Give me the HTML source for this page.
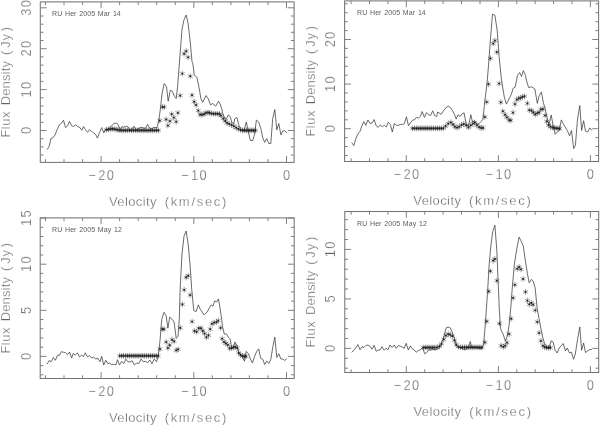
<!DOCTYPE html>
<html lang="en">
<head>
<meta charset="utf-8">
<title>RU Her spectra</title>
<style>
html,body{margin:0;padding:0;background:#fff;}
body{width:600px;height:425px;overflow:hidden;}
svg{display:block;opacity:0.999;will-change:transform;}
text{font-family:"Liberation Sans",sans-serif;fill:#606060;stroke:#ffffff;stroke-width:0.3px;}
.ttl{font-size:7.0px;letter-spacing:0.08px;word-spacing:0.7px;fill:#5c5c5c;stroke:none;}
.tk{font-size:14px;letter-spacing:1.4px;}
.ax{font-size:13px;letter-spacing:1.15px;}
.ay{letter-spacing:0.9px;}
</style>
</head>
<body>
<svg width="600" height="425" viewBox="0 0 600 425">
<rect x="0" y="0" width="600" height="425" fill="#ffffff"/>
<g class="panel-TL">
<rect x="40.3" y="1.9" width="253.8" height="160.5" fill="none" stroke="#747474" stroke-width="1.05"/>
<path d="M45.5 162.4v-3.2M45.5 1.9v3.2M64.0 162.4v-3.2M64.0 1.9v3.2M82.6 162.4v-3.2M82.6 1.9v3.2M101.1 162.4v-6.3M101.1 1.9v6.3M119.6 162.4v-3.2M119.6 1.9v3.2M138.2 162.4v-3.2M138.2 1.9v3.2M156.7 162.4v-3.2M156.7 1.9v3.2M175.3 162.4v-3.2M175.3 1.9v3.2M193.8 162.4v-6.3M193.8 1.9v6.3M212.3 162.4v-3.2M212.3 1.9v3.2M230.9 162.4v-3.2M230.9 1.9v3.2M249.4 162.4v-3.2M249.4 1.9v3.2M268.0 162.4v-3.2M268.0 1.9v3.2M286.5 162.4v-6.3M286.5 1.9v6.3M40.3 155.0h3.2M294.1 155.0h-3.2M40.3 146.9h3.2M294.1 146.9h-3.2M40.3 138.7h3.2M294.1 138.7h-3.2M40.3 130.5h6.3M294.1 130.5h-6.3M40.3 122.3h3.2M294.1 122.3h-3.2M40.3 114.1h3.2M294.1 114.1h-3.2M40.3 106.0h3.2M294.1 106.0h-3.2M40.3 97.8h3.2M294.1 97.8h-3.2M40.3 89.6h6.3M294.1 89.6h-6.3M40.3 81.4h3.2M294.1 81.4h-3.2M40.3 73.2h3.2M294.1 73.2h-3.2M40.3 65.1h3.2M294.1 65.1h-3.2M40.3 56.9h3.2M294.1 56.9h-3.2M40.3 48.7h6.3M294.1 48.7h-6.3M40.3 40.5h3.2M294.1 40.5h-3.2M40.3 32.3h3.2M294.1 32.3h-3.2M40.3 24.2h3.2M294.1 24.2h-3.2M40.3 16.0h3.2M294.1 16.0h-3.2M40.3 7.8h6.3M294.1 7.8h-6.3" fill="none" stroke="#7a7a7a" stroke-width="0.95"/>
<polyline points="47.1,149.6 49.2,146.4 50.9,138.5 52.7,138.0 55.0,135.0 57.1,129.7 59.4,124.7 61.5,123.0 63.5,120.3 65.6,127.6 67.7,125.8 69.5,121.4 71.7,125.8 73.5,126.5 75.3,124.9 77.6,126.5 79.7,127.4 81.8,130.2 83.6,126.5 85.5,129.7 87.6,132.3 89.4,129.7 91.5,131.4 93.8,132.9 95.6,134.4 97.5,138.1 99.6,132.3 101.7,127.6 103.8,132.9 105.6,129.2 107.9,129.7 109.7,127.6 112.0,125.3 114.1,123.5 116.2,123.0 118.0,124.4 120.2,129.7 122.0,126.5 123.8,127.4 125.9,126.2 127.8,126.5 129.9,130.2 131.7,129.7 133.8,126.2 136.1,129.7 137.9,128.8 139.6,127.9 141.1,127.4 143.2,127.9 145.3,128.4 147.6,124.4 149.8,128.4 152.0,128.8 153.8,127.4 156.1,127.6 156.8,128.2 158.5,122.0 160.3,109.7 162.0,93.8 164.2,83.6 166.5,86.7 168.2,101.2 170.3,90.3 172.3,91.2 174.4,96.4 176.2,98.7 177.6,86.7 178.8,70.9 180.2,52.9 182.0,29.1 184.1,19.4 186.2,15.0 188.0,22.9 190.3,42.3 192.0,61.7 192.9,63.8 194.3,75.3 196.8,77.0 199.1,87.6 200.8,98.2 202.6,102.3 206.1,95.6 208.4,99.1 210.5,104.9 212.7,103.5 215.8,106.1 218.5,101.2 220.2,104.0 222.0,109.7 222.5,112.6 224.5,117.9 226.3,119.4 228.3,114.9 230.1,116.4 231.9,122.4 233.8,123.9 234.6,118.9 236.9,117.4 238.7,124.7 240.6,129.5 242.6,130.7 244.4,129.5 246.3,122.0 248.2,131.4 250.4,140.5 252.7,140.5 254.5,134.5 256.4,120.1 258.7,122.1 261.0,129.2 262.8,137.9 264.7,142.4 266.7,138.5 268.8,143.5 270.8,143.5 272.7,118.6 274.8,109.6 276.8,129.9 278.8,123.5 280.9,134.9 282.8,131.0 284.8,130.7 287.0,133.0" fill="none" stroke="#3a3a3a" stroke-width="0.75" stroke-linejoin="round"/>
<path d="M106.4 126.9v5.8M103.9 128.4l5.0 2.9M103.9 131.2l5.0 -2.9M108.3 126.5v5.8M105.8 128.0l5.0 2.9M105.8 130.8l5.0 -2.9M110.3 126.2v5.8M107.7 127.6l5.0 2.9M107.7 130.5l5.0 -2.9M112.2 126.0v5.8M109.7 127.5l5.0 2.9M109.7 130.3l5.0 -2.9M114.1 126.1v5.8M111.6 127.5l5.0 2.9M111.6 130.4l5.0 -2.9M116.1 126.5v5.8M113.5 128.0l5.0 2.9M113.5 130.8l5.0 -2.9M118.0 127.0v5.8M115.5 128.5l5.0 2.9M115.5 131.3l5.0 -2.9M119.9 127.4v5.8M117.4 128.9l5.0 2.9M117.4 131.8l5.0 -2.9M121.8 127.4v5.8M119.3 128.9l5.0 2.9M119.3 131.8l5.0 -2.9M123.8 127.4v5.8M121.3 128.9l5.0 2.9M121.3 131.8l5.0 -2.9M125.7 127.4v5.8M123.2 128.9l5.0 2.9M123.2 131.8l5.0 -2.9M127.6 127.4v5.8M125.1 128.9l5.0 2.9M125.1 131.8l5.0 -2.9M129.6 127.4v5.8M127.0 128.9l5.0 2.9M127.0 131.8l5.0 -2.9M131.5 127.4v5.8M129.0 128.9l5.0 2.9M129.0 131.8l5.0 -2.9M133.4 127.4v5.8M130.9 128.9l5.0 2.9M130.9 131.8l5.0 -2.9M135.3 127.4v5.8M132.8 128.9l5.0 2.9M132.8 131.8l5.0 -2.9M137.3 127.4v5.8M134.8 128.9l5.0 2.9M134.8 131.8l5.0 -2.9M139.2 127.4v5.8M136.7 128.9l5.0 2.9M136.7 131.8l5.0 -2.9M141.1 127.4v5.8M138.6 128.9l5.0 2.9M138.6 131.8l5.0 -2.9M143.1 127.4v5.8M140.6 128.9l5.0 2.9M140.6 131.8l5.0 -2.9M145.0 127.4v5.8M142.5 128.9l5.0 2.9M142.5 131.8l5.0 -2.9M146.9 127.4v5.8M144.4 128.9l5.0 2.9M144.4 131.8l5.0 -2.9M148.9 127.4v5.8M146.3 128.9l5.0 2.9M146.3 131.8l5.0 -2.9M150.8 127.4v5.8M148.3 128.9l5.0 2.9M148.3 131.8l5.0 -2.9M152.7 127.4v5.8M150.2 128.9l5.0 2.9M150.2 131.8l5.0 -2.9M154.7 127.4v5.8M152.1 128.9l5.0 2.9M152.1 131.8l5.0 -2.9M156.6 127.4v5.8M154.1 128.9l5.0 2.9M154.1 131.8l5.0 -2.9M158.5 127.4v5.8M156.0 128.9l5.0 2.9M156.0 131.8l5.0 -2.9M159.8 117.7v5.8M157.3 119.1l5.0 2.9M157.3 122.0l5.0 -2.9M162.4 104.1v5.8M159.9 105.5l5.0 2.9M159.9 108.5l5.0 -2.9M164.2 104.1v5.8M161.7 105.5l5.0 2.9M161.7 108.5l5.0 -2.9M166.1 116.5v5.8M163.6 118.0l5.0 2.9M163.6 120.9l5.0 -2.9M167.9 122.6v5.8M165.4 124.0l5.0 2.9M165.4 127.0l5.0 -2.9M170.0 118.2v5.8M167.5 119.6l5.0 2.9M167.5 122.5l5.0 -2.9M171.7 111.2v5.8M169.2 112.6l5.0 2.9M169.2 115.5l5.0 -2.9M173.9 114.7v5.8M171.4 116.1l5.0 2.9M171.4 119.0l5.0 -2.9M176.2 118.8v5.8M173.7 120.2l5.0 2.9M173.7 123.2l5.0 -2.9M177.9 109.9v5.8M175.4 111.3l5.0 2.9M175.4 114.2l5.0 -2.9M180.2 92.7v5.8M177.7 94.1l5.0 2.9M177.7 97.0l5.0 -2.9M182.3 70.6v5.8M179.8 72.0l5.0 2.9M179.8 75.0l5.0 -2.9M184.1 50.9v5.8M181.6 52.3l5.0 2.9M181.6 55.2l5.0 -2.9M186.2 48.2v5.8M183.7 49.6l5.0 2.9M183.7 52.6l5.0 -2.9M188.1 54.4v5.8M185.6 55.8l5.0 2.9M185.6 58.8l5.0 -2.9M190.3 73.3v5.8M187.8 74.8l5.0 2.9M187.8 77.7l5.0 -2.9M192.0 92.3v5.8M189.5 93.8l5.0 2.9M189.5 96.7l5.0 -2.9M194.1 98.8v5.8M191.6 100.2l5.0 2.9M191.6 103.2l5.0 -2.9M196.1 102.0v5.8M193.6 103.5l5.0 2.9M193.6 106.4l5.0 -2.9M198.2 107.7v5.8M195.7 109.1l5.0 2.9M195.7 112.0l5.0 -2.9M200.0 111.7v5.8M197.5 113.1l5.0 2.9M197.5 116.0l5.0 -2.9M202.0 111.8v5.8M199.5 113.2l5.0 2.9M199.5 116.2l5.0 -2.9M204.0 111.3v5.8M201.5 112.8l5.0 2.9M201.5 115.7l5.0 -2.9M205.8 110.0v5.8M203.3 111.5l5.0 2.9M203.3 114.4l5.0 -2.9M208.0 109.5v5.8M205.5 111.0l5.0 2.9M205.5 113.9l5.0 -2.9M209.7 110.0v5.8M207.2 111.5l5.0 2.9M207.2 114.4l5.0 -2.9M211.7 110.6v5.8M209.2 112.0l5.0 2.9M209.2 115.0l5.0 -2.9M213.7 110.9v5.8M211.2 112.3l5.0 2.9M211.2 115.2l5.0 -2.9M215.7 110.9v5.8M213.2 112.3l5.0 2.9M213.2 115.2l5.0 -2.9M217.7 110.9v5.8M215.2 112.3l5.0 2.9M215.2 115.2l5.0 -2.9M219.5 111.1v5.8M217.0 112.5l5.0 2.9M217.0 115.5l5.0 -2.9M221.0 112.7v5.8M218.5 114.1l5.0 2.9M218.5 117.0l5.0 -2.9M223.3 115.7v5.8M220.8 117.1l5.0 2.9M220.8 120.0l5.0 -2.9M225.2 118.0v5.8M222.7 119.5l5.0 2.9M222.7 122.4l5.0 -2.9M227.1 120.0v5.8M224.6 121.5l5.0 2.9M224.6 124.4l5.0 -2.9M229.3 121.0v5.8M226.8 122.5l5.0 2.9M226.8 125.4l5.0 -2.9M231.6 122.1v5.8M229.1 123.5l5.0 2.9M229.1 126.5l5.0 -2.9M233.8 123.3v5.8M231.3 124.8l5.0 2.9M231.3 127.7l5.0 -2.9M236.1 124.8v5.8M233.6 126.2l5.0 2.9M233.6 129.2l5.0 -2.9M238.4 126.0v5.8M235.9 127.5l5.0 2.9M235.9 130.3l5.0 -2.9M240.6 127.0v5.8M238.1 128.5l5.0 2.9M238.1 131.3l5.0 -2.9M242.6 127.5v5.8M240.1 129.0l5.0 2.9M240.1 131.8l5.0 -2.9M244.4 127.5v5.8M241.9 129.0l5.0 2.9M241.9 131.8l5.0 -2.9M246.3 127.5v5.8M243.8 129.0l5.0 2.9M243.8 131.8l5.0 -2.9M248.2 127.5v5.8M245.6 129.0l5.0 2.9M245.6 131.8l5.0 -2.9M250.0 127.5v5.8M247.5 129.0l5.0 2.9M247.5 131.8l5.0 -2.9M251.8 127.5v5.8M249.3 129.0l5.0 2.9M249.3 131.8l5.0 -2.9M253.7 127.5v5.8M251.2 129.0l5.0 2.9M251.2 131.8l5.0 -2.9M255.5 127.5v5.8M253.0 129.0l5.0 2.9M253.0 131.8l5.0 -2.9" fill="none" stroke="#222222" stroke-width="0.43"/>
<path d="M106.4 129.8h0M108.3 129.4h0M110.3 129.1h0M112.2 128.9h0M114.1 129.0h0M116.1 129.4h0M118.0 129.9h0M119.9 130.3h0M121.8 130.3h0M123.8 130.3h0M125.7 130.3h0M127.6 130.3h0M129.6 130.3h0M131.5 130.3h0M133.4 130.3h0M135.3 130.3h0M137.3 130.3h0M139.2 130.3h0M141.1 130.3h0M143.1 130.3h0M145.0 130.3h0M146.9 130.3h0M148.9 130.3h0M150.8 130.3h0M152.7 130.3h0M154.7 130.3h0M156.6 130.3h0M158.5 130.3h0M159.8 120.6h0M162.4 107.0h0M164.2 107.0h0M166.1 119.4h0M167.9 125.5h0M170.0 121.1h0M171.7 114.1h0M173.9 117.6h0M176.2 121.7h0M177.9 112.8h0M180.2 95.6h0M182.3 73.5h0M184.1 53.8h0M186.2 51.1h0M188.1 57.3h0M190.3 76.2h0M192.0 95.2h0M194.1 101.7h0M196.1 104.9h0M198.2 110.6h0M200.0 114.6h0M202.0 114.7h0M204.0 114.2h0M205.8 112.9h0M208.0 112.4h0M209.7 112.9h0M211.7 113.5h0M213.7 113.8h0M215.7 113.8h0M217.7 113.8h0M219.5 114.0h0M221.0 115.6h0M223.3 118.6h0M225.2 120.9h0M227.1 122.9h0M229.3 123.9h0M231.6 125.0h0M233.8 126.2h0M236.1 127.7h0M238.4 128.9h0M240.6 129.9h0M242.6 130.4h0M244.4 130.4h0M246.3 130.4h0M248.2 130.4h0M250.0 130.4h0M251.8 130.4h0M253.7 130.4h0M255.5 130.4h0" fill="none" stroke="#1c1c1c" stroke-width="1.75" stroke-linecap="round"/>
<text x="52" y="15.5" class="ttl">RU Her 2005 Mar 14</text>
<text transform="translate(101.7 179.6) scale(0.92 1)" class="tk" text-anchor="middle"><tspan>−</tspan><tspan dx="1.4">20</tspan></text>
<text transform="translate(194.4 179.6) scale(0.92 1)" class="tk" text-anchor="middle"><tspan>−</tspan><tspan dx="1.4">10</tspan></text>
<text transform="translate(287.1 179.6) scale(0.92 1)" class="tk" text-anchor="middle">0</text>
<text x="168.5" y="205.8" class="ax" text-anchor="middle"><tspan letter-spacing="0.4">Velocity</tspan><tspan letter-spacing="4.1"> </tspan><tspan letter-spacing="1.7">(km/sec)</tspan></text>
<text transform="translate(30.8 129.9) rotate(-90) scale(0.92 1)" class="tk" text-anchor="middle">0</text>
<text transform="translate(30.8 89.0) rotate(-90) scale(0.92 1)" class="tk" text-anchor="middle">10</text>
<text transform="translate(30.8 48.1) rotate(-90) scale(0.92 1)" class="tk" text-anchor="middle">20</text>
<text transform="translate(30.8 7.2) rotate(-90) scale(0.92 1)" class="tk" text-anchor="middle">30</text>
<text transform="translate(10.3 81.8) rotate(-90)" class="ax ay" text-anchor="middle"><tspan letter-spacing="0.5">Flux</tspan><tspan letter-spacing="2.1"> </tspan><tspan letter-spacing="0.15">Density</tspan><tspan letter-spacing="2.4"> </tspan><tspan letter-spacing="2.7">(</tspan><tspan letter-spacing="0.9">J</tspan><tspan letter-spacing="2.7">y</tspan><tspan>)</tspan></text>
</g>
<g class="panel-TR">
<rect x="344.6" y="0.9" width="254.0" height="160.6" fill="none" stroke="#747474" stroke-width="1.05"/>
<path d="M351.1 161.5v-3.2M351.1 0.9v3.2M369.5 161.5v-3.2M369.5 0.9v3.2M387.9 161.5v-3.2M387.9 0.9v3.2M406.3 161.5v-6.3M406.3 0.9v6.3M424.7 161.5v-3.2M424.7 0.9v3.2M443.1 161.5v-3.2M443.1 0.9v3.2M461.5 161.5v-3.2M461.5 0.9v3.2M480.0 161.5v-3.2M480.0 0.9v3.2M498.4 161.5v-6.3M498.4 0.9v6.3M516.8 161.5v-3.2M516.8 0.9v3.2M535.2 161.5v-3.2M535.2 0.9v3.2M553.6 161.5v-3.2M553.6 0.9v3.2M572.0 161.5v-3.2M572.0 0.9v3.2M590.4 161.5v-6.3M590.4 0.9v6.3M344.6 155.5h3.2M598.6 155.5h-3.2M344.6 146.5h3.2M598.6 146.5h-3.2M344.6 137.6h3.2M598.6 137.6h-3.2M344.6 128.7h6.3M598.6 128.7h-6.3M344.6 119.8h3.2M598.6 119.8h-3.2M344.6 110.9h3.2M598.6 110.9h-3.2M344.6 101.9h3.2M598.6 101.9h-3.2M344.6 93.0h3.2M598.6 93.0h-3.2M344.6 84.1h6.3M598.6 84.1h-6.3M344.6 75.2h3.2M598.6 75.2h-3.2M344.6 66.3h3.2M598.6 66.3h-3.2M344.6 57.3h3.2M598.6 57.3h-3.2M344.6 48.4h3.2M598.6 48.4h-3.2M344.6 39.5h6.3M598.6 39.5h-6.3M344.6 30.6h3.2M598.6 30.6h-3.2M344.6 21.7h3.2M598.6 21.7h-3.2M344.6 12.7h3.2M598.6 12.7h-3.2M344.6 3.8h3.2M598.6 3.8h-3.2" fill="none" stroke="#7a7a7a" stroke-width="0.95"/>
<polyline points="351.7,142.6 353.8,145.6 355.9,138.5 357.9,134.1 360.0,131.4 362.1,125.3 363.9,121.7 365.8,125.3 367.9,120.0 370.0,123.5 372.0,123.0 374.1,119.6 376.2,125.8 378.2,127.4 380.3,124.9 382.4,126.7 384.3,125.3 386.4,127.0 388.2,122.3 390.3,124.4 392.3,132.0 394.4,123.5 396.5,125.3 398.4,125.3 400.6,124.4 402.7,124.4 404.4,123.5 406.4,116.8 408.5,125.8 410.6,122.6 412.5,120.3 414.7,119.6 416.4,117.3 418.5,118.2 420.5,116.1 422.2,111.5 424.4,117.3 426.5,112.6 428.4,114.7 430.5,115.6 432.7,110.8 434.6,115.6 436.7,116.5 437.6,112.0 441.2,114.3 443.8,110.3 446.5,107.1 448.2,106.2 450.5,107.6 452.6,110.8 454.4,114.3 456.2,119.1 457.9,114.7 460.0,116.5 462.0,113.8 464.1,112.9 466.2,124.4 468.5,126.2 470.8,114.7 472.4,121.7 474.7,120.9 476.8,124.4 479.1,123.5 481.2,121.4 483.0,119.1 484.7,102.3 486.9,84.7 488.5,65.9 490.4,40.0 492.5,14.1 494.9,15.3 497.2,30.6 499.1,56.5 501.5,80.0 503.8,94.1 504.3,97.1 506.4,104.1 509.1,98.8 511.4,94.1 513.2,88.2 515.1,87.1 517.5,75.3 519.6,72.5 521.5,76.5 523.4,70.6 525.5,75.3 526.3,80.0 528.6,87.5 531.6,86.8 534.9,89.0 537.3,103.4 539.1,95.8 541.4,92.1 543.3,102.6 545.1,108.6 547.1,117.7 548.9,125.2 551.2,115.0 553.1,125.2 555.2,134.3 557.2,132.0 559.2,130.5 561.3,119.9 563.2,123.7 565.5,127.5 567.3,130.5 569.6,135.8 571.5,130.5 573.7,148.6 575.4,145.4 577.5,119.2 579.8,105.6 581.6,130.5 583.6,120.7 585.5,131.2 587.6,132.0 589.9,127.9 591.9,130.5" fill="none" stroke="#3a3a3a" stroke-width="0.75" stroke-linejoin="round"/>
<path d="M412.4 125.4v5.8M409.9 126.9l5.0 2.9M409.9 129.8l5.0 -2.9M414.3 125.4v5.8M411.8 126.9l5.0 2.9M411.8 129.8l5.0 -2.9M416.3 125.4v5.8M413.7 126.9l5.0 2.9M413.7 129.8l5.0 -2.9M418.2 125.4v5.8M415.7 126.9l5.0 2.9M415.7 129.8l5.0 -2.9M420.1 125.4v5.8M417.6 126.9l5.0 2.9M417.6 129.8l5.0 -2.9M422.0 125.4v5.8M419.5 126.9l5.0 2.9M419.5 129.8l5.0 -2.9M424.0 125.4v5.8M421.5 126.9l5.0 2.9M421.5 129.8l5.0 -2.9M425.9 125.4v5.8M423.4 126.9l5.0 2.9M423.4 129.8l5.0 -2.9M427.8 125.4v5.8M425.3 126.9l5.0 2.9M425.3 129.8l5.0 -2.9M429.8 125.4v5.8M427.3 126.9l5.0 2.9M427.3 129.8l5.0 -2.9M431.7 125.4v5.8M429.2 126.9l5.0 2.9M429.2 129.8l5.0 -2.9M433.6 125.4v5.8M431.1 126.9l5.0 2.9M431.1 129.8l5.0 -2.9M435.6 125.4v5.8M433.0 126.9l5.0 2.9M433.0 129.8l5.0 -2.9M437.5 125.4v5.8M435.0 126.9l5.0 2.9M435.0 129.8l5.0 -2.9M439.4 125.4v5.8M436.9 126.9l5.0 2.9M436.9 129.8l5.0 -2.9M441.3 125.4v5.8M438.8 126.9l5.0 2.9M438.8 129.8l5.0 -2.9M443.3 125.4v5.8M440.8 126.9l5.0 2.9M440.8 129.8l5.0 -2.9M445.6 123.3v5.8M443.1 124.8l5.0 2.9M443.1 127.7l5.0 -2.9M448.2 120.6v5.8M445.7 122.0l5.0 2.9M445.7 125.0l5.0 -2.9M450.9 119.4v5.8M448.4 120.8l5.0 2.9M448.4 123.8l5.0 -2.9M453.0 121.5v5.8M450.5 123.0l5.0 2.9M450.5 125.9l5.0 -2.9M454.9 123.8v5.8M452.4 125.2l5.0 2.9M452.4 128.2l5.0 -2.9M457.0 124.7v5.8M454.5 126.1l5.0 2.9M454.5 129.0l5.0 -2.9M459.2 123.8v5.8M456.7 125.2l5.0 2.9M456.7 128.2l5.0 -2.9M461.5 122.0v5.8M459.0 123.5l5.0 2.9M459.0 126.4l5.0 -2.9M463.7 121.0v5.8M461.2 122.5l5.0 2.9M461.2 125.4l5.0 -2.9M466.2 122.4v5.8M463.7 123.8l5.0 2.9M463.7 126.8l5.0 -2.9M468.5 124.5v5.8M466.0 126.0l5.0 2.9M466.0 128.8l5.0 -2.9M470.8 122.4v5.8M468.3 123.8l5.0 2.9M468.3 126.8l5.0 -2.9M472.9 120.6v5.8M470.4 122.0l5.0 2.9M470.4 125.0l5.0 -2.9M474.7 119.7v5.8M472.2 121.1l5.0 2.9M472.2 124.0l5.0 -2.9M476.8 122.4v5.8M474.3 123.8l5.0 2.9M474.3 126.8l5.0 -2.9M479.1 124.1v5.8M476.6 125.5l5.0 2.9M476.6 128.4l5.0 -2.9M481.2 125.0v5.8M478.7 126.5l5.0 2.9M478.7 129.3l5.0 -2.9M483.0 125.0v5.8M480.5 126.5l5.0 2.9M480.5 129.3l5.0 -2.9M484.9 114.1v5.8M482.4 115.5l5.0 2.9M482.4 118.5l5.0 -2.9M486.7 99.1v5.8M484.2 100.5l5.0 2.9M484.2 103.5l5.0 -2.9M488.5 81.3v5.8M486.0 82.8l5.0 2.9M486.0 85.7l5.0 -2.9M490.4 55.5v5.8M487.9 56.9l5.0 2.9M487.9 59.9l5.0 -2.9M493.2 40.6v5.8M490.7 42.0l5.0 2.9M490.7 45.0l5.0 -2.9M494.9 37.6v5.8M492.4 39.0l5.0 2.9M492.4 42.0l5.0 -2.9M496.8 49.3v5.8M494.3 50.8l5.0 2.9M494.3 53.7l5.0 -2.9M499.1 80.6v5.8M496.6 82.0l5.0 2.9M496.6 85.0l5.0 -2.9M500.8 99.4v5.8M498.3 100.8l5.0 2.9M498.3 103.8l5.0 -2.9M502.9 108.3v5.8M500.4 109.8l5.0 2.9M500.4 112.7l5.0 -2.9M505.0 111.8v5.8M502.5 113.2l5.0 2.9M502.5 116.2l5.0 -2.9M507.0 114.4v5.8M504.5 115.8l5.0 2.9M504.5 118.8l5.0 -2.9M509.1 117.1v5.8M506.6 118.5l5.0 2.9M506.6 121.5l5.0 -2.9M510.8 117.4v5.8M508.3 118.8l5.0 2.9M508.3 121.8l5.0 -2.9M513.0 109.7v5.8M510.5 111.1l5.0 2.9M510.5 114.0l5.0 -2.9M514.9 101.2v5.8M512.4 102.6l5.0 2.9M512.4 105.5l5.0 -2.9M516.8 96.7v5.8M514.3 98.1l5.0 2.9M514.3 101.0l5.0 -2.9M518.8 95.5v5.8M516.3 97.0l5.0 2.9M516.3 99.9l5.0 -2.9M520.6 94.9v5.8M518.1 96.3l5.0 2.9M518.1 99.2l5.0 -2.9M522.5 94.0v5.8M520.0 95.5l5.0 2.9M520.0 98.4l5.0 -2.9M524.5 93.4v5.8M522.0 94.8l5.0 2.9M522.0 97.8l5.0 -2.9M527.4 100.5v5.8M524.9 102.0l5.0 2.9M524.9 104.9l5.0 -2.9M529.3 107.2v5.8M526.8 108.6l5.0 2.9M526.8 111.5l5.0 -2.9M531.6 107.7v5.8M529.1 109.1l5.0 2.9M529.1 112.0l5.0 -2.9M533.4 109.5v5.8M530.9 111.0l5.0 2.9M530.9 113.9l5.0 -2.9M535.3 111.5v5.8M532.8 113.0l5.0 2.9M532.8 115.9l5.0 -2.9M537.3 110.3v5.8M534.8 111.8l5.0 2.9M534.8 114.7l5.0 -2.9M539.1 109.5v5.8M536.6 111.0l5.0 2.9M536.6 113.9l5.0 -2.9M540.9 106.5v5.8M538.4 108.0l5.0 2.9M538.4 110.9l5.0 -2.9M542.9 106.0v5.8M540.4 107.5l5.0 2.9M540.4 110.4l5.0 -2.9M545.1 112.5v5.8M542.6 114.0l5.0 2.9M542.6 116.9l5.0 -2.9M546.7 118.5v5.8M544.2 120.0l5.0 2.9M544.2 122.9l5.0 -2.9M548.5 122.3v5.8M546.0 123.8l5.0 2.9M546.0 126.7l5.0 -2.9M550.4 123.8v5.8M547.9 125.2l5.0 2.9M547.9 128.2l5.0 -2.9M552.4 124.6v5.8M549.9 126.0l5.0 2.9M549.9 128.9l5.0 -2.9M554.2 125.0v5.8M551.7 126.5l5.0 2.9M551.7 129.3l5.0 -2.9M556.1 125.3v5.8M553.6 126.7l5.0 2.9M553.6 129.6l5.0 -2.9M558.0 125.6v5.8M555.5 127.0l5.0 2.9M555.5 129.9l5.0 -2.9M559.8 125.6v5.8M557.3 127.0l5.0 2.9M557.3 129.9l5.0 -2.9" fill="none" stroke="#222222" stroke-width="0.43"/>
<path d="M412.4 128.3h0M414.3 128.3h0M416.3 128.3h0M418.2 128.3h0M420.1 128.3h0M422.0 128.3h0M424.0 128.3h0M425.9 128.3h0M427.8 128.3h0M429.8 128.3h0M431.7 128.3h0M433.6 128.3h0M435.6 128.3h0M437.5 128.3h0M439.4 128.3h0M441.3 128.3h0M443.3 128.3h0M445.6 126.2h0M448.2 123.5h0M450.9 122.3h0M453.0 124.4h0M454.9 126.7h0M457.0 127.6h0M459.2 126.7h0M461.5 124.9h0M463.7 123.9h0M466.2 125.3h0M468.5 127.4h0M470.8 125.3h0M472.9 123.5h0M474.7 122.6h0M476.8 125.3h0M479.1 127.0h0M481.2 127.9h0M483.0 127.9h0M484.9 117.0h0M486.7 102.0h0M488.5 84.2h0M490.4 58.4h0M493.2 43.5h0M494.9 40.5h0M496.8 52.2h0M499.1 83.5h0M500.8 102.3h0M502.9 111.2h0M505.0 114.7h0M507.0 117.3h0M509.1 120.0h0M510.8 120.3h0M513.0 112.6h0M514.9 104.1h0M516.8 99.6h0M518.8 98.4h0M520.6 97.8h0M522.5 96.9h0M524.5 96.3h0M527.4 103.4h0M529.3 110.1h0M531.6 110.6h0M533.4 112.4h0M535.3 114.4h0M537.3 113.2h0M539.1 112.4h0M540.9 109.4h0M542.9 108.9h0M545.1 115.4h0M546.7 121.4h0M548.5 125.2h0M550.4 126.7h0M552.4 127.5h0M554.2 127.9h0M556.1 128.2h0M558.0 128.5h0M559.8 128.5h0" fill="none" stroke="#1c1c1c" stroke-width="1.75" stroke-linecap="round"/>
<text x="357" y="14.7" class="ttl">RU Her 2005 Mar 14</text>
<text transform="translate(406.9 178.7) scale(0.92 1)" class="tk" text-anchor="middle"><tspan>−</tspan><tspan dx="1.4">20</tspan></text>
<text transform="translate(499.0 178.7) scale(0.92 1)" class="tk" text-anchor="middle"><tspan>−</tspan><tspan dx="1.4">10</tspan></text>
<text transform="translate(591.0 178.7) scale(0.92 1)" class="tk" text-anchor="middle">0</text>
<text x="472.9" y="204.9" class="ax" text-anchor="middle"><tspan letter-spacing="0.4">Velocity</tspan><tspan letter-spacing="4.1"> </tspan><tspan letter-spacing="1.7">(km/sec)</tspan></text>
<text transform="translate(335.1 128.1) rotate(-90) scale(0.92 1)" class="tk" text-anchor="middle">0</text>
<text transform="translate(335.1 83.5) rotate(-90) scale(0.92 1)" class="tk" text-anchor="middle">10</text>
<text transform="translate(335.1 38.9) rotate(-90) scale(0.92 1)" class="tk" text-anchor="middle">20</text>
<text transform="translate(314.6 80.8) rotate(-90)" class="ax ay" text-anchor="middle"><tspan letter-spacing="0.5">Flux</tspan><tspan letter-spacing="2.1"> </tspan><tspan letter-spacing="0.15">Density</tspan><tspan letter-spacing="2.4"> </tspan><tspan letter-spacing="2.7">(</tspan><tspan letter-spacing="0.9">J</tspan><tspan letter-spacing="2.7">y</tspan><tspan>)</tspan></text>
</g>
<g class="panel-BL">
<rect x="40.2" y="217.9" width="254.0" height="160.6" fill="none" stroke="#747474" stroke-width="1.05"/>
<path d="M45.5 378.5v-3.2M45.5 217.9v3.2M64.0 378.5v-3.2M64.0 217.9v3.2M82.6 378.5v-3.2M82.6 217.9v3.2M101.1 378.5v-6.3M101.1 217.9v6.3M119.6 378.5v-3.2M119.6 217.9v3.2M138.2 378.5v-3.2M138.2 217.9v3.2M156.7 378.5v-3.2M156.7 217.9v3.2M175.3 378.5v-3.2M175.3 217.9v3.2M193.8 378.5v-6.3M193.8 217.9v6.3M212.3 378.5v-3.2M212.3 217.9v3.2M230.9 378.5v-3.2M230.9 217.9v3.2M249.4 378.5v-3.2M249.4 217.9v3.2M268.0 378.5v-3.2M268.0 217.9v3.2M286.5 378.5v-6.3M286.5 217.9v6.3M40.2 374.8h3.2M294.2 374.8h-3.2M40.2 365.6h3.2M294.2 365.6h-3.2M40.2 356.4h6.3M294.2 356.4h-6.3M40.2 347.2h3.2M294.2 347.2h-3.2M40.2 338.0h3.2M294.2 338.0h-3.2M40.2 328.7h3.2M294.2 328.7h-3.2M40.2 319.5h3.2M294.2 319.5h-3.2M40.2 310.3h6.3M294.2 310.3h-6.3M40.2 301.1h3.2M294.2 301.1h-3.2M40.2 291.9h3.2M294.2 291.9h-3.2M40.2 282.6h3.2M294.2 282.6h-3.2M40.2 273.4h3.2M294.2 273.4h-3.2M40.2 264.2h6.3M294.2 264.2h-6.3M40.2 255.0h3.2M294.2 255.0h-3.2M40.2 245.8h3.2M294.2 245.8h-3.2M40.2 236.5h3.2M294.2 236.5h-3.2M40.2 227.3h3.2M294.2 227.3h-3.2M40.2 218.1h6.3M294.2 218.1h-6.3" fill="none" stroke="#7a7a7a" stroke-width="0.95"/>
<polyline points="47.0,364.2 49.2,360.5 51.2,361.7 53.3,357.5 55.3,360.3 57.5,355.3 59.5,355.3 61.3,351.7 63.3,352.2 65.3,352.5 67.5,354.7 69.5,352.0 71.7,358.0 73.3,353.3 75.3,355.3 77.5,352.8 79.5,357.0 81.7,355.0 83.3,356.7 85.3,352.8 87.5,357.0 89.5,355.5 91.7,358.0 93.7,357.0 95.8,359.2 97.8,358.0 100.0,361.7 101.7,356.3 103.7,365.0 105.8,360.3 107.8,363.7 109.7,363.0 111.7,364.7 113.7,364.2 115.8,365.0 117.5,359.7 119.5,365.0 121.7,361.3 123.7,363.7 125.8,359.2 127.8,361.7 130.0,362.0 132.1,360.8 134.4,364.9 136.5,363.1 138.8,363.5 141.1,359.1 143.2,361.7 145.3,361.4 147.6,362.6 149.8,360.0 152.0,363.8 154.2,359.1 156.5,361.7 158.2,356.4 160.0,340.6 161.7,319.4 164.0,312.3 166.2,315.9 167.9,328.2 169.7,317.1 171.8,319.0 174.1,322.0 176.2,338.4 178.0,336.2 179.4,317.6 180.0,292.6 181.9,255.0 184.0,236.2 186.1,231.0 188.2,244.4 190.1,265.6 191.8,290.3 193.8,310.6 196.1,311.5 198.3,304.9 200.5,309.7 204.1,315.0 207.1,312.0 209.4,307.9 211.1,304.9 212.9,306.2 214.7,300.9 216.8,301.8 218.4,299.0 219.9,307.1 221.7,319.4 222.5,326.6 224.3,334.1 226.3,333.8 228.3,337.1 230.1,338.9 231.6,347.3 233.4,348.0 234.9,341.9 236.9,345.4 238.7,352.2 240.6,355.2 242.6,357.4 244.4,361.2 246.3,351.4 248.5,353.7 250.4,359.0 252.4,363.0 254.5,356.7 256.7,351.4 258.7,348.9 260.7,358.2 262.8,359.4 264.7,364.5 266.7,360.9 268.8,363.5 270.8,359.4 272.7,347.7 274.8,337.1 276.8,357.4 278.8,353.7 280.9,359.0 282.8,359.0 284.8,360.5 287.0,358.5" fill="none" stroke="#3a3a3a" stroke-width="0.75" stroke-linejoin="round"/>
<path d="M119.7 352.9v5.8M117.2 354.4l5.0 2.9M117.2 357.2l5.0 -2.9M121.6 352.9v5.8M119.1 354.4l5.0 2.9M119.1 357.2l5.0 -2.9M123.5 352.9v5.8M121.0 354.4l5.0 2.9M121.0 357.2l5.0 -2.9M125.5 352.9v5.8M123.0 354.4l5.0 2.9M123.0 357.2l5.0 -2.9M127.4 352.9v5.8M124.9 354.4l5.0 2.9M124.9 357.2l5.0 -2.9M129.3 352.9v5.8M126.8 354.4l5.0 2.9M126.8 357.2l5.0 -2.9M131.2 352.9v5.8M128.7 354.4l5.0 2.9M128.7 357.2l5.0 -2.9M133.2 352.9v5.8M130.7 354.4l5.0 2.9M130.7 357.2l5.0 -2.9M135.1 352.9v5.8M132.6 354.4l5.0 2.9M132.6 357.2l5.0 -2.9M137.0 352.9v5.8M134.5 354.4l5.0 2.9M134.5 357.2l5.0 -2.9M138.9 352.9v5.8M136.4 354.4l5.0 2.9M136.4 357.2l5.0 -2.9M140.9 352.9v5.8M138.4 354.4l5.0 2.9M138.4 357.2l5.0 -2.9M142.8 352.9v5.8M140.3 354.4l5.0 2.9M140.3 357.2l5.0 -2.9M144.7 352.9v5.8M142.2 354.4l5.0 2.9M142.2 357.2l5.0 -2.9M146.7 352.9v5.8M144.1 354.4l5.0 2.9M144.1 357.2l5.0 -2.9M148.6 352.9v5.8M146.1 354.4l5.0 2.9M146.1 357.2l5.0 -2.9M150.5 352.9v5.8M148.0 354.4l5.0 2.9M148.0 357.2l5.0 -2.9M152.4 352.9v5.8M149.9 354.4l5.0 2.9M149.9 357.2l5.0 -2.9M154.3 352.9v5.8M151.8 354.4l5.0 2.9M151.8 357.2l5.0 -2.9M156.3 352.9v5.8M153.8 354.4l5.0 2.9M153.8 357.2l5.0 -2.9M158.2 352.9v5.8M155.7 354.4l5.0 2.9M155.7 357.2l5.0 -2.9M160.0 346.1v5.8M157.5 347.6l5.0 2.9M157.5 350.4l5.0 -2.9M162.3 326.2v5.8M159.8 327.7l5.0 2.9M159.8 330.6l5.0 -2.9M163.9 326.2v5.8M161.4 327.7l5.0 2.9M161.4 330.6l5.0 -2.9M166.2 339.1v5.8M163.7 340.6l5.0 2.9M163.7 343.4l5.0 -2.9M167.9 345.1v5.8M165.4 346.6l5.0 2.9M165.4 349.4l5.0 -2.9M169.7 342.1v5.8M167.2 343.6l5.0 2.9M167.2 346.4l5.0 -2.9M172.0 336.8v5.8M169.5 338.2l5.0 2.9M169.5 341.1l5.0 -2.9M174.1 338.5v5.8M171.6 339.9l5.0 2.9M171.6 342.8l5.0 -2.9M176.2 347.4v5.8M173.7 348.9l5.0 2.9M173.7 351.8l5.0 -2.9M178.1 346.5v5.8M175.6 347.9l5.0 2.9M175.6 350.8l5.0 -2.9M180.3 325.0v5.8M177.8 326.4l5.0 2.9M177.8 329.3l5.0 -2.9M182.4 301.5v5.8M179.9 302.9l5.0 2.9M179.9 305.8l5.0 -2.9M184.2 286.9v5.8M181.7 288.4l5.0 2.9M181.7 291.2l5.0 -2.9M186.1 274.5v5.8M183.6 275.9l5.0 2.9M183.6 278.8l5.0 -2.9M188.2 272.8v5.8M185.7 274.2l5.0 2.9M185.7 277.1l5.0 -2.9M190.1 292.1v5.8M187.6 293.6l5.0 2.9M187.6 296.4l5.0 -2.9M192.1 318.6v5.8M189.6 320.1l5.0 2.9M189.6 322.9l5.0 -2.9M194.4 328.0v5.8M191.9 329.4l5.0 2.9M191.9 332.3l5.0 -2.9M196.7 328.8v5.8M194.2 330.2l5.0 2.9M194.2 333.1l5.0 -2.9M198.8 325.3v5.8M196.3 326.8l5.0 2.9M196.3 329.6l5.0 -2.9M201.1 325.3v5.8M198.6 326.8l5.0 2.9M198.6 329.6l5.0 -2.9M202.8 328.0v5.8M200.3 329.4l5.0 2.9M200.3 332.3l5.0 -2.9M204.6 330.6v5.8M202.1 332.1l5.0 2.9M202.1 334.9l5.0 -2.9M206.4 334.5v5.8M203.9 335.9l5.0 2.9M203.9 338.8l5.0 -2.9M208.5 332.4v5.8M206.0 333.9l5.0 2.9M206.0 336.8l5.0 -2.9M210.2 326.2v5.8M207.7 327.7l5.0 2.9M207.7 330.6l5.0 -2.9M212.0 320.9v5.8M209.5 322.4l5.0 2.9M209.5 325.2l5.0 -2.9M214.1 319.7v5.8M211.6 321.2l5.0 2.9M211.6 324.1l5.0 -2.9M216.5 319.1v5.8M214.0 320.6l5.0 2.9M214.0 323.4l5.0 -2.9M218.3 317.6v5.8M215.8 319.1l5.0 2.9M215.8 321.9l5.0 -2.9M220.6 324.9v5.8M218.1 326.4l5.0 2.9M218.1 329.2l5.0 -2.9M222.1 335.7v5.8M219.6 337.2l5.0 2.9M219.6 340.1l5.0 -2.9M224.0 339.0v5.8M221.5 340.4l5.0 2.9M221.5 343.3l5.0 -2.9M225.9 340.5v5.8M223.4 341.9l5.0 2.9M223.4 344.8l5.0 -2.9M227.8 342.0v5.8M225.3 343.4l5.0 2.9M225.3 346.3l5.0 -2.9M229.6 345.5v5.8M227.1 346.9l5.0 2.9M227.1 349.8l5.0 -2.9M231.6 345.1v5.8M229.1 346.6l5.0 2.9M229.1 349.4l5.0 -2.9M233.4 344.4v5.8M230.9 345.9l5.0 2.9M230.9 348.8l5.0 -2.9M235.3 344.0v5.8M232.8 345.4l5.0 2.9M232.8 348.3l5.0 -2.9M237.2 345.1v5.8M234.7 346.6l5.0 2.9M234.7 349.4l5.0 -2.9M238.7 350.0v5.8M236.2 351.4l5.0 2.9M236.2 354.3l5.0 -2.9M240.6 352.0v5.8M238.1 353.4l5.0 2.9M238.1 356.3l5.0 -2.9M242.6 353.0v5.8M240.1 354.4l5.0 2.9M240.1 357.3l5.0 -2.9M244.4 353.5v5.8M241.9 354.9l5.0 2.9M241.9 357.8l5.0 -2.9M245.9 353.5v5.8M243.4 354.9l5.0 2.9M243.4 357.8l5.0 -2.9" fill="none" stroke="#222222" stroke-width="0.43"/>
<path d="M119.7 355.8h0M121.6 355.8h0M123.5 355.8h0M125.5 355.8h0M127.4 355.8h0M129.3 355.8h0M131.2 355.8h0M133.2 355.8h0M135.1 355.8h0M137.0 355.8h0M138.9 355.8h0M140.9 355.8h0M142.8 355.8h0M144.7 355.8h0M146.7 355.8h0M148.6 355.8h0M150.5 355.8h0M152.4 355.8h0M154.3 355.8h0M156.3 355.8h0M158.2 355.8h0M160.0 349.0h0M162.3 329.1h0M163.9 329.1h0M166.2 342.0h0M167.9 348.0h0M169.7 345.0h0M172.0 339.7h0M174.1 341.4h0M176.2 350.3h0M178.1 349.4h0M180.3 327.9h0M182.4 304.4h0M184.2 289.8h0M186.1 277.4h0M188.2 275.7h0M190.1 295.0h0M192.1 321.5h0M194.4 330.9h0M196.7 331.7h0M198.8 328.2h0M201.1 328.2h0M202.8 330.9h0M204.6 333.5h0M206.4 337.4h0M208.5 335.3h0M210.2 329.1h0M212.0 323.8h0M214.1 322.6h0M216.5 322.0h0M218.3 320.5h0M220.6 327.8h0M222.1 338.6h0M224.0 341.9h0M225.9 343.4h0M227.8 344.9h0M229.6 348.4h0M231.6 348.0h0M233.4 347.3h0M235.3 346.9h0M237.2 348.0h0M238.7 352.9h0M240.6 354.9h0M242.6 355.9h0M244.4 356.4h0M245.9 356.4h0" fill="none" stroke="#1c1c1c" stroke-width="1.75" stroke-linecap="round"/>
<text x="52" y="231.6" class="ttl">RU Her 2005 May 12</text>
<text transform="translate(101.7 395.7) scale(0.92 1)" class="tk" text-anchor="middle"><tspan>−</tspan><tspan dx="1.4">20</tspan></text>
<text transform="translate(194.4 395.7) scale(0.92 1)" class="tk" text-anchor="middle"><tspan>−</tspan><tspan dx="1.4">10</tspan></text>
<text transform="translate(287.1 395.7) scale(0.92 1)" class="tk" text-anchor="middle">0</text>
<text x="168.5" y="421.9" class="ax" text-anchor="middle"><tspan letter-spacing="0.4">Velocity</tspan><tspan letter-spacing="4.1"> </tspan><tspan letter-spacing="1.7">(km/sec)</tspan></text>
<text transform="translate(30.7 355.8) rotate(-90) scale(0.92 1)" class="tk" text-anchor="middle">0</text>
<text transform="translate(30.7 309.7) rotate(-90) scale(0.92 1)" class="tk" text-anchor="middle">5</text>
<text transform="translate(30.7 263.6) rotate(-90) scale(0.92 1)" class="tk" text-anchor="middle">10</text>
<text transform="translate(30.7 217.5) rotate(-90) scale(0.92 1)" class="tk" text-anchor="middle">15</text>
<text transform="translate(10.2 297.8) rotate(-90)" class="ax ay" text-anchor="middle"><tspan letter-spacing="0.5">Flux</tspan><tspan letter-spacing="2.1"> </tspan><tspan letter-spacing="0.15">Density</tspan><tspan letter-spacing="2.4"> </tspan><tspan letter-spacing="2.7">(</tspan><tspan letter-spacing="0.9">J</tspan><tspan letter-spacing="2.7">y</tspan><tspan>)</tspan></text>
</g>
<g class="panel-BR">
<rect x="344.8" y="211.5" width="253.90000000000003" height="161.0" fill="none" stroke="#747474" stroke-width="1.05"/>
<path d="M351.1 372.5v-3.2M351.1 211.5v3.2M369.5 372.5v-3.2M369.5 211.5v3.2M387.9 372.5v-3.2M387.9 211.5v3.2M406.3 372.5v-6.3M406.3 211.5v6.3M424.7 372.5v-3.2M424.7 211.5v3.2M443.1 372.5v-3.2M443.1 211.5v3.2M461.5 372.5v-3.2M461.5 211.5v3.2M480.0 372.5v-3.2M480.0 211.5v3.2M498.4 372.5v-6.3M498.4 211.5v6.3M516.8 372.5v-3.2M516.8 211.5v3.2M535.2 372.5v-3.2M535.2 211.5v3.2M553.6 372.5v-3.2M553.6 211.5v3.2M572.0 372.5v-3.2M572.0 211.5v3.2M590.4 372.5v-6.3M590.4 211.5v6.3M344.8 368.2h3.2M598.7 368.2h-3.2M344.8 358.3h3.2M598.7 358.3h-3.2M344.8 348.4h6.3M598.7 348.4h-6.3M344.8 338.5h3.2M598.7 338.5h-3.2M344.8 328.6h3.2M598.7 328.6h-3.2M344.8 318.7h3.2M598.7 318.7h-3.2M344.8 308.8h3.2M598.7 308.8h-3.2M344.8 298.9h6.3M598.7 298.9h-6.3M344.8 289.0h3.2M598.7 289.0h-3.2M344.8 279.1h3.2M598.7 279.1h-3.2M344.8 269.2h3.2M598.7 269.2h-3.2M344.8 259.3h3.2M598.7 259.3h-3.2M344.8 249.4h6.3M598.7 249.4h-6.3M344.8 239.5h3.2M598.7 239.5h-3.2M344.8 229.6h3.2M598.7 229.6h-3.2M344.8 219.7h3.2M598.7 219.7h-3.2" fill="none" stroke="#7a7a7a" stroke-width="0.95"/>
<polyline points="351.7,352.5 353.8,350.0 355.8,348.0 357.8,344.5 360.0,349.7 362.0,346.7 363.8,347.5 365.8,345.5 367.8,345.0 370.0,346.3 372.0,349.2 374.2,345.3 376.2,351.3 378.0,350.0 380.0,350.0 382.0,346.7 384.2,350.3 386.2,348.3 388.0,349.7 390.0,345.0 392.2,347.5 394.2,345.0 396.2,348.3 398.3,345.5 400.3,346.3 402.2,347.0 404.2,348.3 406.2,343.3 408.3,350.0 410.3,345.8 412.2,348.7 414.2,350.0 416.3,352.2 418.3,350.5 420.3,350.0 422.5,347.5 424.7,353.7 426.7,352.5 428.7,350.0 430.8,350.0 432.8,349.2 435.0,350.0 437.6,349.1 440.3,346.4 442.4,341.1 444.3,335.0 446.1,327.9 448.2,327.0 450.3,327.9 452.3,332.3 454.4,338.5 456.2,344.7 458.8,347.3 461.5,348.2 465.0,350.0 468.5,347.3 470.3,341.5 471.7,347.3 475.6,347.3 479.1,348.2 481.7,349.1 483.5,344.7 484.7,332.3 486.1,312.9 487.4,294.7 489.2,264.1 490.9,245.3 492.8,231.2 494.9,225.3 496.8,250.0 498.4,287.6 499.4,311.2 500.6,328.8 502.9,333.7 505.5,341.1 507.3,335.9 509.1,325.3 510.8,307.6 512.1,290.0 514.4,264.1 516.8,248.8 519.1,237.1 521.5,241.8 523.4,246.5 525.5,261.8 527.4,273.5 529.2,282.9 531.4,279.4 533.2,281.1 535.1,287.6 537.3,309.6 539.1,318.6 540.9,328.4 542.9,338.2 544.7,343.9 547.0,347.2 548.9,348.0 551.2,340.9 553.1,342.0 555.2,350.3 557.2,353.0 559.2,348.0 561.3,345.7 563.2,343.5 565.5,351.0 567.3,348.0 569.6,353.0 571.5,352.1 573.5,359.3 575.3,354.0 577.5,339.7 579.8,326.9 581.6,350.3 583.6,343.0 585.5,352.5 587.6,351.0 589.9,349.5 591.9,349.5" fill="none" stroke="#3a3a3a" stroke-width="0.75" stroke-linejoin="round"/>
<path d="M423.3 344.6v5.8M420.8 346.1l5.0 2.9M420.8 348.9l5.0 -2.9M425.2 344.6v5.8M422.7 346.1l5.0 2.9M422.7 348.9l5.0 -2.9M427.1 344.6v5.8M424.6 346.1l5.0 2.9M424.6 348.9l5.0 -2.9M429.0 344.6v5.8M426.5 346.1l5.0 2.9M426.5 348.9l5.0 -2.9M430.9 344.6v5.8M428.4 346.1l5.0 2.9M428.4 348.9l5.0 -2.9M432.8 344.6v5.8M430.3 346.1l5.0 2.9M430.3 348.9l5.0 -2.9M434.7 344.6v5.8M432.2 346.1l5.0 2.9M432.2 348.9l5.0 -2.9M437.1 344.4v5.8M434.6 345.9l5.0 2.9M434.6 348.8l5.0 -2.9M439.4 343.5v5.8M436.9 344.9l5.0 2.9M436.9 347.8l5.0 -2.9M441.5 340.9v5.8M439.0 342.4l5.0 2.9M439.0 345.2l5.0 -2.9M443.8 336.5v5.8M441.3 337.9l5.0 2.9M441.3 340.8l5.0 -2.9M445.9 332.6v5.8M443.4 334.1l5.0 2.9M443.4 336.9l5.0 -2.9M448.2 331.2v5.8M445.7 332.7l5.0 2.9M445.7 335.6l5.0 -2.9M450.3 331.7v5.8M447.8 333.2l5.0 2.9M447.8 336.1l5.0 -2.9M452.3 333.3v5.8M449.8 334.8l5.0 2.9M449.8 337.6l5.0 -2.9M454.4 337.4v5.8M451.9 338.9l5.0 2.9M451.9 341.8l5.0 -2.9M456.2 341.8v5.8M453.7 343.2l5.0 2.9M453.7 346.1l5.0 -2.9M458.3 343.9v5.8M455.8 345.4l5.0 2.9M455.8 348.2l5.0 -2.9M460.6 344.4v5.8M458.1 345.9l5.0 2.9M458.1 348.8l5.0 -2.9M462.5 344.4v5.8M460.0 345.9l5.0 2.9M460.0 348.8l5.0 -2.9M464.5 344.4v5.8M461.9 345.9l5.0 2.9M461.9 348.8l5.0 -2.9M466.4 344.4v5.8M463.9 345.9l5.0 2.9M463.9 348.8l5.0 -2.9M468.3 344.4v5.8M465.8 345.9l5.0 2.9M465.8 348.8l5.0 -2.9M470.2 344.4v5.8M467.7 345.9l5.0 2.9M467.7 348.8l5.0 -2.9M472.2 344.4v5.8M469.7 345.9l5.0 2.9M469.7 348.8l5.0 -2.9M474.1 344.4v5.8M471.6 345.9l5.0 2.9M471.6 348.8l5.0 -2.9M476.0 344.4v5.8M473.5 345.9l5.0 2.9M473.5 348.8l5.0 -2.9M478.0 344.4v5.8M475.5 345.9l5.0 2.9M475.5 348.8l5.0 -2.9M479.9 344.4v5.8M477.4 345.9l5.0 2.9M477.4 348.8l5.0 -2.9M481.8 344.4v5.8M479.3 345.9l5.0 2.9M479.3 348.8l5.0 -2.9M484.9 339.5v5.8M482.4 340.9l5.0 2.9M482.4 343.8l5.0 -2.9M486.7 318.5v5.8M484.2 319.9l5.0 2.9M484.2 322.8l5.0 -2.9M488.8 288.5v5.8M486.3 289.9l5.0 2.9M486.3 292.8l5.0 -2.9M490.4 268.3v5.8M487.9 269.8l5.0 2.9M487.9 272.6l5.0 -2.9M493.2 257.7v5.8M490.7 259.2l5.0 2.9M490.7 262.1l5.0 -2.9M494.9 256.0v5.8M492.4 257.4l5.0 2.9M492.4 260.3l5.0 -2.9M496.8 277.7v5.8M494.3 279.2l5.0 2.9M494.3 282.1l5.0 -2.9M499.4 320.6v5.8M496.9 322.1l5.0 2.9M496.9 324.9l5.0 -2.9M501.1 342.7v5.8M498.6 344.2l5.0 2.9M498.6 347.1l5.0 -2.9M503.4 343.9v5.8M500.9 345.4l5.0 2.9M500.9 348.2l5.0 -2.9M505.2 342.7v5.8M502.7 344.2l5.0 2.9M502.7 347.1l5.0 -2.9M507.0 339.7v5.8M504.5 341.2l5.0 2.9M504.5 344.1l5.0 -2.9M509.1 331.2v5.8M506.6 332.7l5.0 2.9M506.6 335.6l5.0 -2.9M511.2 315.8v5.8M508.7 317.2l5.0 2.9M508.7 320.1l5.0 -2.9M513.1 295.0v5.8M510.6 296.4l5.0 2.9M510.6 299.3l5.0 -2.9M514.9 281.9v5.8M512.4 283.4l5.0 2.9M512.4 286.2l5.0 -2.9M517.2 265.9v5.8M514.7 267.4l5.0 2.9M514.7 270.2l5.0 -2.9M519.1 264.0v5.8M516.6 265.4l5.0 2.9M516.6 268.3l5.0 -2.9M521.0 266.4v5.8M518.5 267.9l5.0 2.9M518.5 270.8l5.0 -2.9M523.1 276.0v5.8M520.6 277.4l5.0 2.9M520.6 280.3l5.0 -2.9M525.5 289.0v5.8M523.0 290.4l5.0 2.9M523.0 293.3l5.0 -2.9M527.4 297.6v5.8M524.9 299.1l5.0 2.9M524.9 301.9l5.0 -2.9M529.3 301.4v5.8M526.8 302.9l5.0 2.9M526.8 305.8l5.0 -2.9M531.3 299.9v5.8M528.8 301.4l5.0 2.9M528.8 304.2l5.0 -2.9M533.1 301.8v5.8M530.6 303.2l5.0 2.9M530.6 306.1l5.0 -2.9M535.3 307.4v5.8M532.8 308.9l5.0 2.9M532.8 311.8l5.0 -2.9M537.3 319.0v5.8M534.8 320.4l5.0 2.9M534.8 323.3l5.0 -2.9M539.1 330.0v5.8M536.6 331.4l5.0 2.9M536.6 334.3l5.0 -2.9M540.9 338.0v5.8M538.4 339.4l5.0 2.9M538.4 342.3l5.0 -2.9M542.9 342.8v5.8M540.4 344.2l5.0 2.9M540.4 347.1l5.0 -2.9M544.7 344.3v5.8M542.2 345.8l5.0 2.9M542.2 348.6l5.0 -2.9M546.7 344.8v5.8M544.2 346.2l5.0 2.9M544.2 349.1l5.0 -2.9M548.5 344.8v5.8M546.0 346.2l5.0 2.9M546.0 349.1l5.0 -2.9M550.4 344.8v5.8M547.9 346.2l5.0 2.9M547.9 349.1l5.0 -2.9" fill="none" stroke="#222222" stroke-width="0.43"/>
<path d="M423.3 347.5h0M425.2 347.5h0M427.1 347.5h0M429.0 347.5h0M430.9 347.5h0M432.8 347.5h0M434.7 347.5h0M437.1 347.3h0M439.4 346.4h0M441.5 343.8h0M443.8 339.4h0M445.9 335.5h0M448.2 334.1h0M450.3 334.6h0M452.3 336.2h0M454.4 340.3h0M456.2 344.7h0M458.3 346.8h0M460.6 347.3h0M462.5 347.3h0M464.5 347.3h0M466.4 347.3h0M468.3 347.3h0M470.2 347.3h0M472.2 347.3h0M474.1 347.3h0M476.0 347.3h0M478.0 347.3h0M479.9 347.3h0M481.8 347.3h0M484.9 342.4h0M486.7 321.4h0M488.8 291.4h0M490.4 271.2h0M493.2 260.6h0M494.9 258.9h0M496.8 280.6h0M499.4 323.5h0M501.1 345.6h0M503.4 346.8h0M505.2 345.6h0M507.0 342.6h0M509.1 334.1h0M511.2 318.7h0M513.1 297.9h0M514.9 284.8h0M517.2 268.8h0M519.1 266.9h0M521.0 269.3h0M523.1 278.9h0M525.5 291.9h0M527.4 300.5h0M529.3 304.3h0M531.3 302.8h0M533.1 304.7h0M535.3 310.3h0M537.3 321.9h0M539.1 332.9h0M540.9 340.9h0M542.9 345.7h0M544.7 347.2h0M546.7 347.7h0M548.5 347.7h0M550.4 347.7h0" fill="none" stroke="#1c1c1c" stroke-width="1.75" stroke-linecap="round"/>
<text x="357" y="225.7" class="ttl">RU Her 2005 May 12</text>
<text transform="translate(406.9 389.7) scale(0.92 1)" class="tk" text-anchor="middle"><tspan>−</tspan><tspan dx="1.4">20</tspan></text>
<text transform="translate(499.0 389.7) scale(0.92 1)" class="tk" text-anchor="middle"><tspan>−</tspan><tspan dx="1.4">10</tspan></text>
<text transform="translate(591.0 389.7) scale(0.92 1)" class="tk" text-anchor="middle">0</text>
<text x="473.1" y="415.9" class="ax" text-anchor="middle"><tspan letter-spacing="0.4">Velocity</tspan><tspan letter-spacing="4.1"> </tspan><tspan letter-spacing="1.7">(km/sec)</tspan></text>
<text transform="translate(335.3 347.8) rotate(-90) scale(0.92 1)" class="tk" text-anchor="middle">0</text>
<text transform="translate(335.3 298.3) rotate(-90) scale(0.92 1)" class="tk" text-anchor="middle">5</text>
<text transform="translate(335.3 248.8) rotate(-90) scale(0.92 1)" class="tk" text-anchor="middle">10</text>
<text transform="translate(314.8 291.6) rotate(-90)" class="ax ay" text-anchor="middle"><tspan letter-spacing="0.5">Flux</tspan><tspan letter-spacing="2.1"> </tspan><tspan letter-spacing="0.15">Density</tspan><tspan letter-spacing="2.4"> </tspan><tspan letter-spacing="2.7">(</tspan><tspan letter-spacing="0.9">J</tspan><tspan letter-spacing="2.7">y</tspan><tspan>)</tspan></text>
</g>
</svg>
</body>
</html>
